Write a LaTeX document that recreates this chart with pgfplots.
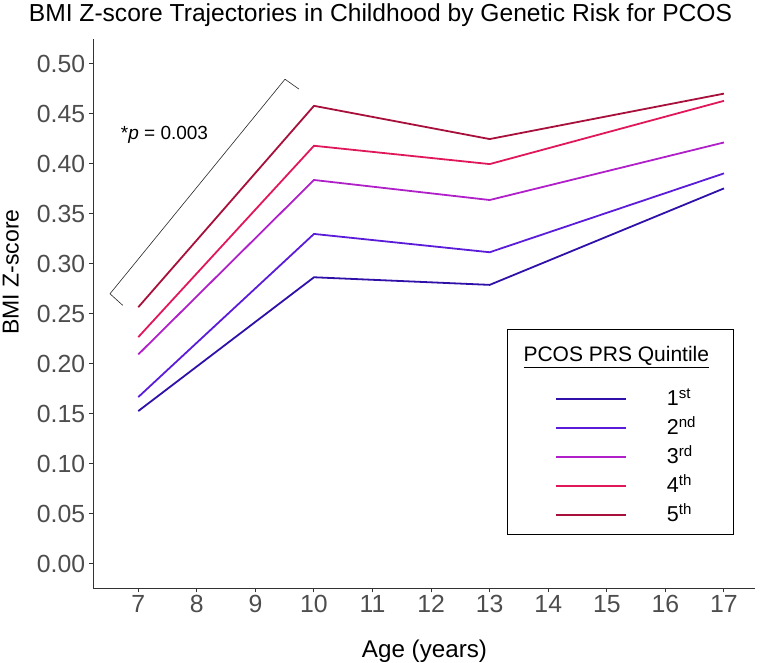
\documentclass[border=0pt]{standalone}
\usepackage{pgfplots}
\pgfplotsset{compat=1.18}
\usepackage{fontspec}
\setmainfont{Liberation Sans}
\definecolor{q1}{HTML}{3010A8}
\definecolor{q2}{HTML}{5A1CD8}
\definecolor{q3}{HTML}{B020C8}
\definecolor{q4}{HTML}{E0185A}
\definecolor{q5}{HTML}{A8103C}
\definecolor{axgray}{HTML}{333333}
\definecolor{tickgray}{HTML}{4D4D4D}
\begin{document}
\begin{tikzpicture}
\useasboundingbox (0,0) rectangle (776bp,663bp);
\begin{axis}[
  at={(93.3bp,74.7bp)}, anchor=south west,
  scale only axis, width=661.7bp, height=549.7bp,
  xmin=6.232, xmax=17.53, ymin=-0.0243, ymax=0.525,
  axis x line*=bottom, axis y line*=left,
  axis line style={axgray, line width=1.1bp},
  xtick={7,8,9,10,11,12,13,14,15,16,17},
  ytick={0,0.05,0.1,0.15,0.2,0.25,0.3,0.35,0.4,0.45,0.5},
  tick align=outside, major tick length=4bp,
  tick style={axgray, line width=1bp},
  /pgf/number format/assume math mode=true,
  ticklabel style={font=\fontsize{24.8bp}{28bp}\selectfont, text=tickgray},
  yticklabel style={/pgf/number format/fixed, /pgf/number format/fixed zerofill, /pgf/number format/precision=2, inner xsep=0pt, xshift=-4bp},
  xticklabel style={inner ysep=0pt, yshift=-3bp},
  legend style={draw=none, fill=none, inner sep=0pt, outer sep=0pt,
    at={(0.6977,0.3671)}, anchor=north west, row sep=0pt, column sep=0pt,
    nodes={inner sep=0pt, text height=19bp, text depth=10bp,
      font=\fontsize{21.5bp}{24bp}\selectfont}},
  legend cell align=left,
  legend image code/.code={\draw[#1, line width=2bp] (0bp,2.5bp) -- (70bp,2.5bp); \path (110bp,0bp);},
  clip=false,
]
\addplot[color=q1, line width=1.8bp] coordinates {(7,0.1528) (10,0.2865) (13,0.2789) (17,0.3753)};
\addplot[color=q2, line width=1.8bp] coordinates {(7,0.1668) (10,0.3298) (13,0.3115) (17,0.3903)};
\addplot[color=q3, line width=1.8bp] coordinates {(7,0.2094) (10,0.3837) (13,0.3637) (17,0.4212)};
\addplot[color=q4, line width=1.8bp] coordinates {(7,0.2267) (10,0.4179) (13,0.3996) (17,0.4628)};
\addplot[color=q5, line width=1.8bp] coordinates {(7,0.2566) (10,0.4578) (13,0.4246) (17,0.4700)};
\legend{1\textsuperscript{st},2\textsuperscript{nd},3\textsuperscript{rd},4\textsuperscript{th},5\textsuperscript{th}}
\draw[line width=0.6bp, black!85] (axis cs:6.734,0.2585) -- (axis cs:6.517,0.270) -- (axis cs:9.505,0.4844) -- (axis cs:9.744,0.4745);
\end{axis}
\node[anchor=base, inner sep=0pt] at (380.5bp,641bp) {\fontsize{24.6bp}{28bp}\selectfont BMI Z-score Trajectories in Childhood by Genetic Risk for PCOS};
\node[anchor=base, inner sep=0pt] at (424.5bp,6bp) {\fontsize{24.2bp}{28bp}\selectfont Age (years)};
\node[anchor=base, inner sep=0pt, rotate=90] at (18.5bp,391bp) {\fontsize{23bp}{26bp}\selectfont BMI Z-score};
\node[anchor=base west, inner sep=0pt] at (120.7bp,523.7bp) {\fontsize{19bp}{22bp}\selectfont *\textit{p} = 0.003};
\draw[line width=1bp, black] (507.3bp,333.7bp) rectangle (733.5bp,128bp);
\node[anchor=base west, inner sep=0pt] at (523.3bp,301.3bp) {\fontsize{21bp}{24bp}\selectfont \underline{PCOS PRS Quintile}};
\end{tikzpicture}
\end{document}
